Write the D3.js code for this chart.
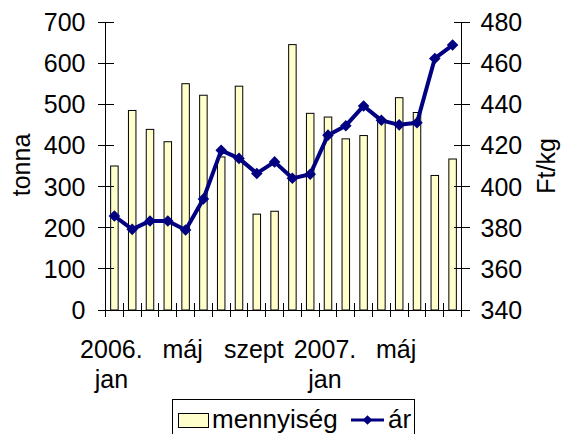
<!DOCTYPE html>
<html>
<head>
<meta charset="utf-8">
<title>mennyiség és ár</title>
<script src="https://cdn.jsdelivr.net/npm/d3@7"></script>
<style>
  body { margin: 0; background: #fff; }
  svg text { font-family: "Liberation Sans", Arial, sans-serif; fill: #000; }
</style>
</head>
<body>
<div id="chart"></div>
<script>
// months 2006 jan .. 2007 aug
var months = ["2006. jan", "feb", "márc", "ápr", "máj", "jún", "júl", "aug", "szept", "okt", "nov", "dec",
              "2007. jan", "feb", "márc", "ápr", "máj", "jún", "júl", "aug"];
var shownLabels = {0: ["2006.", "jan"], 4: ["máj"], 8: ["szept"], 12: ["2007.", "jan"], 16: ["máj"]};
// mennyiség (tonna)
var amount = [350, 485, 439, 409, 550, 522, 372, 544, 233, 240, 645, 478, 469, 416, 424, 460, 516, 480, 327, 367];
// ár (Ft/kg)
var price = [385.7, 379.2, 383.3, 383.3, 378.9, 394, 417.6, 413.7, 406.4, 412, 404, 406, 425, 429.6, 439.2, 432.2, 430, 431, 462.3, 468.8];
var leftTicks = [0, 100, 200, 300, 400, 500, 600, 700];
var rightTicks = [340, 360, 380, 400, 420, 440, 460, 480];

var W = 563, H = 434;
var x0 = 105.5, x1 = 461.5, yTop = 22, yBot = 310;
var fs = 25;

var svg = d3.select("#chart").append("svg")
    .attr("width", W).attr("height", H);

var x = d3.scaleBand().domain(d3.range(months.length)).range([x0, x1]);
var yL = d3.scaleLinear().domain([0, 700]).range([yBot, yTop]);
var yR = d3.scaleLinear().domain([340, 480]).range([yBot, yTop]);

// bars
var bw = 7.5;
svg.append("g").selectAll("rect").data(amount).enter().append("rect")
    .attr("x", function(d, i){ return x(i) + x.bandwidth() / 2 - bw / 2; })
    .attr("y", function(d){ return yL(d); })
    .attr("width", bw)
    .attr("height", function(d){ return yBot - yL(d); })
    .attr("fill", "#ffffcc")
    .attr("stroke", "#000")
    .attr("stroke-width", 1);

// axes lines
var ax = svg.append("g").attr("stroke", "#000").attr("stroke-width", 1).attr("shape-rendering", "crispEdges");
ax.append("line").attr("x1", x0).attr("x2", x0).attr("y1", yTop).attr("y2", yBot);
ax.append("line").attr("x1", x1).attr("x2", x1).attr("y1", yTop).attr("y2", yBot);
ax.append("line").attr("x1", x0).attr("x2", x1).attr("y1", yBot).attr("y2", yBot);

leftTicks.forEach(function(t){
  ax.append("line").attr("x1", x0 - 8).attr("x2", x0 + 8).attr("y1", yL(t)).attr("y2", yL(t));
});
rightTicks.forEach(function(t){
  ax.append("line").attr("x1", x1 - 8).attr("x2", x1 + 8).attr("y1", yR(t)).attr("y2", yR(t));
});
d3.range(months.length + 1).forEach(function(i){
  var xx = x0 + i * x.step();
  ax.append("line").attr("x1", xx).attr("x2", xx).attr("y1", yBot - 7).attr("y2", yBot + 7);
});

// tick labels
svg.append("g").selectAll("text").data(leftTicks).enter().append("text")
    .attr("x", x0 - 20).attr("y", function(d){ return yL(d); })
    .attr("dy", "0.36em").attr("text-anchor", "end")
    .attr("font-size", fs).text(function(d){ return d; });
svg.append("g").selectAll("text").data(rightTicks).enter().append("text")
    .attr("x", x1 + 19).attr("y", function(d){ return yR(d); })
    .attr("dy", "0.36em").attr("text-anchor", "start")
    .attr("font-size", fs).text(function(d){ return d; });

Object.keys(shownLabels).forEach(function(k){
  var lines = shownLabels[k];
  var cx = x(+k) + x.bandwidth() / 2 - 3;
  var t = svg.append("text").attr("text-anchor", "middle").attr("font-size", fs);
  lines.forEach(function(s, j){
    t.append("tspan").attr("x", cx).attr("y", 358 + j * 30).text(s);
  });
});

// axis titles
svg.append("text").attr("transform", "translate(30,165) rotate(-90)")
    .attr("text-anchor", "middle").attr("font-size", fs).text("tonna");
svg.append("text").attr("transform", "translate(555,166) rotate(-90)")
    .attr("text-anchor", "middle").attr("font-size", fs).text("Ft/kg");

// price line
var line = d3.line()
    .x(function(d, i){ return x(i) + x.bandwidth() / 2; })
    .y(function(d){ return yR(d); });
svg.append("path").datum(price)
    .attr("d", line).attr("fill", "none")
    .attr("stroke", "#000080").attr("stroke-width", 4)
    .attr("stroke-linejoin", "round");
svg.append("g").selectAll("path").data(price).enter().append("path")
    .attr("d", d3.symbol().type(d3.symbolDiamond2).size(85))
    .attr("transform", function(d, i){ return "translate(" + (x(i) + x.bandwidth() / 2) + "," + yR(d) + ")"; })
    .attr("fill", "#000080");

// legend
var lg = svg.append("g");
lg.append("rect").attr("x", 172.5).attr("y", 399.5).attr("width", 242).attr("height", 45)
    .attr("fill", "#fff").attr("stroke", "#000");
lg.append("rect").attr("x", 178.5).attr("y", 413.5).attr("width", 30).attr("height", 14)
    .attr("fill", "#ffffcc").attr("stroke", "#000");
lg.append("text").attr("x", 212).attr("y", 428).attr("font-size", 26).text("mennyiség");
lg.append("line").attr("x1", 351).attr("x2", 384).attr("y1", 420).attr("y2", 420)
    .attr("stroke", "#000080").attr("stroke-width", 3);
lg.append("path").attr("d", d3.symbol().type(d3.symbolDiamond2).size(60))
    .attr("transform", "translate(367.5,420)").attr("fill", "#000080");
lg.append("text").attr("x", 388).attr("y", 428).attr("font-size", 26).text("ár");
</script>
</body>
</html>
